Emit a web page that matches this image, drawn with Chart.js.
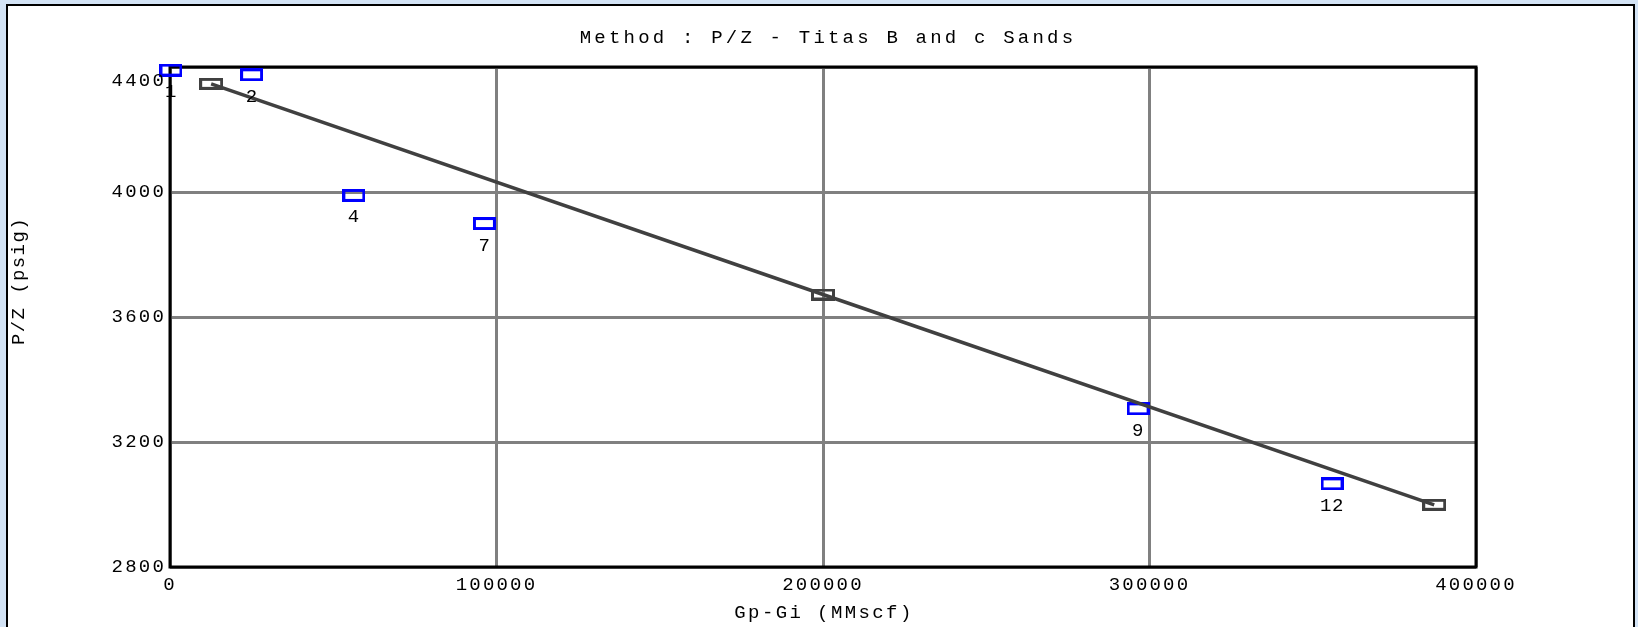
<!DOCTYPE html>
<html><head><meta charset="utf-8">
<script src="https://cdn.jsdelivr.net/npm/chart.js@4.4.0/dist/chart.umd.min.js"></script>
<style>
html,body{margin:0;padding:0;width:1638px;height:627px;overflow:hidden;background:#d3e3f5;}
#panel{position:absolute;left:6px;top:4px;width:1629px;height:660px;background:#fff;border:2px solid #000;box-sizing:border-box;}
#wrap{position:absolute;left:0;top:0;width:1638px;height:627px;}
</style></head><body>
<div id="panel"></div>
<div id="wrap"><canvas id="c" width="1638" height="627"></canvas></div>
<script>
// ---- data ----
const chartTitle = 'Method : P/Z - Titas B and c Sands';
const xAxisTitle = 'Gp-Gi (MMscf)';
const yAxisTitle = 'P/Z (psig)';
const xTicks = [0, 100000, 200000, 300000, 400000];
const yTicks = [2800, 3200, 3600, 4000, 4400];
// observed points (blue squares)
const obsLabels = ['1', '2', '4', '7', '9', '12'];
const obsX = [300, 25000, 56300, 96300, 296500, 355900];
const obsY = [4390, 4375, 3989, 3899, 3306, 3066];
// fitted straight line (grey squares)
const fitX = [12600, 200000, 387200];
const fitY = [4346, 3672, 2999];

const MONO = '"Liberation Mono", "DejaVu Sans Mono", monospace';
const SPACING = '2.2px';

function rectMarker(w, h, color, lw) {
  const c = document.createElement('canvas');
  c.width = w; c.height = h;
  const g = c.getContext('2d');
  g.strokeStyle = color; g.lineWidth = lw;
  g.strokeRect(lw / 2, lw / 2, w - lw, h - lw);
  return c;
}
const blueMarker = rectMarker(23, 13, '#0000ff', 3);
const greyMarker = rectMarker(24, 12, '#404040', 3);

const deco = {
  id: 'deco',
  beforeLayout(chart) { chart.ctx.letterSpacing = SPACING; },
  beforeDraw(chart) { chart.ctx.letterSpacing = SPACING; },
  beforeDatasetsDraw(chart) {
    const { ctx, chartArea: a } = chart;
    ctx.save();
    ctx.strokeStyle = '#000';
    ctx.lineWidth = 3;
    ctx.strokeRect(a.left, a.top, a.right - a.left, a.bottom - a.top);
    ctx.restore();
  },
  afterDatasetsDraw(chart) {
    const { ctx } = chart;
    const meta = chart.getDatasetMeta(1);
    ctx.save();
    ctx.letterSpacing = '0.5px';
    ctx.font = '19px ' + MONO;
    ctx.fillStyle = '#000';
    ctx.textAlign = 'center';
    ctx.textBaseline = 'middle';
    meta.data.forEach((pt, i) => {
      ctx.fillText(obsLabels[i], pt.x, pt.y + 22);
    });
    ctx.restore();
  },
  afterDraw(chart) {
    const { ctx, chartArea: a, scales } = chart;
    ctx.save();
    ctx.fillStyle = '#000';
    // title
    ctx.letterSpacing = '3.2px';
    ctx.font = '19px ' + MONO;
    ctx.textAlign = 'center';
    ctx.textBaseline = 'middle';
    ctx.fillText(chartTitle, 828, 38);
    // x axis title
    ctx.letterSpacing = '2.4px';
    ctx.fillText(xAxisTitle, (a.left + a.right) / 2 + 1, 613);
    // y axis title
    ctx.save();
    ctx.letterSpacing = '1.4px';
    ctx.translate(19, 281);
    ctx.rotate(-Math.PI / 2);
    ctx.fillText(yAxisTitle, 0, 0);
    ctx.restore();
    // top y tick label sits a bit below the frame
    ctx.letterSpacing = SPACING;
    ctx.textAlign = 'right';
    const top = yTicks[yTicks.length - 1];
    ctx.fillText(String(top), a.left - 4, scales.y.getPixelForValue(top) + 14);
    ctx.restore();
  }
};

new Chart(document.getElementById('c'), {
  type: 'scatter',
  data: {
    datasets: [
      {
        label: 'fit',
        data: fitX.map((x, i) => ({ x, y: fitY[i] })),
        showLine: true,
        borderColor: '#404040',
        borderWidth: 3.5,
        pointStyle: greyMarker,
        pointRadius: 6,
        clip: false,
        order: 0
      },
      {
        label: 'obs',
        data: obsX.map((x, i) => ({ x, y: obsY[i] })),
        showLine: false,
        pointStyle: blueMarker,
        pointRadius: 6,
        clip: false,
        order: 1
      }
    ]
  },
  options: {
    responsive: false,
    animation: false,
    devicePixelRatio: 1,
    layout: { padding: { top: 67, right: 162, left: 0, bottom: 0 } },
    plugins: { legend: { display: false }, tooltip: { enabled: false }, title: { display: false } },
    scales: {
      x: {
        type: 'linear',
        min: xTicks[0], max: xTicks[xTicks.length - 1],
        afterBuildTicks: s => { s.ticks = xTicks.map(v => ({ value: v })); },
        afterFit: s => { s.height = 60; },
        grid: { color: '#808080', lineWidth: 3, drawTicks: false },
        border: { display: false },
        ticks: {
          padding: 7, color: '#000', maxRotation: 0, autoSkip: false,
          font: { family: MONO, size: 19 },
          callback: v => String(v)
        }
      },
      y: {
        type: 'linear',
        min: yTicks[0], max: yTicks[yTicks.length - 1],
        afterBuildTicks: s => { s.ticks = yTicks.map(v => ({ value: v })); },
        afterFit: s => { s.width = 170; },
        grid: { color: '#808080', lineWidth: 3, drawTicks: false },
        border: { display: false },
        ticks: {
          padding: 4, autoSkip: false,
          color: c => (c.tick && c.tick.value === yTicks[yTicks.length - 1]) ? 'rgba(0,0,0,0)' : '#000',
          font: { family: MONO, size: 19 },
          callback: v => String(v)
        }
      }
    }
  },
  plugins: [deco]
});
</script>
</body></html>
